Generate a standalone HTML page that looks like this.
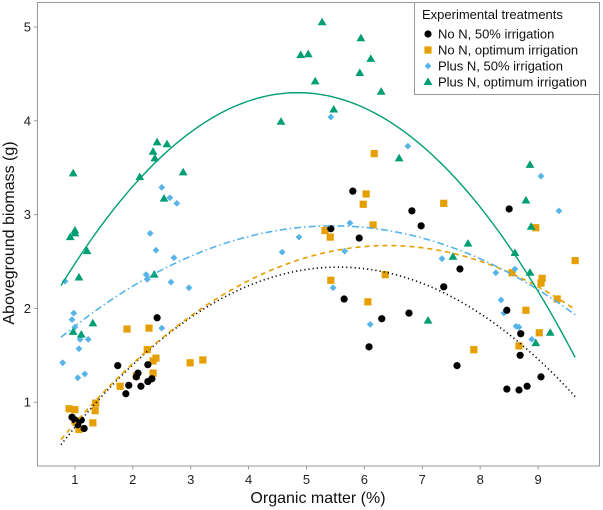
<!DOCTYPE html>
<html><head><meta charset="utf-8">
<style>
html,body{margin:0;padding:0;background:#fff;}
svg{display:block;font-family:"Liberation Sans",Arial,sans-serif;}
</style></head>
<body>
<svg id="chart" width="603" height="510" viewBox="0 0 603 510">
</svg>
<script>
const xTicks=[1,2,3,4,5,6,7,8,9];
const yTicks=[1,2,3,4,5];
const seriesNames=["No N, 50% irrigation","No N, optimum irrigation","Plus N, 50% irrigation","Plus N, optimum irrigation"];
const noN50X=[2.42,2.26,1.74,2.09,2.06,1.93,2.14,2.26,2.33,1.88,0.95,1.00,1.11,1.16,1.05,5.80,6.82,6.98,5.42,5.91,5.65,6.30,6.77,6.08,7.37,8.50,7.65,8.46,8.70,8.69,7.60,9.05,8.46,8.67,8.81];
const noN50Y=[1.90,1.40,1.39,1.31,1.27,1.18,1.17,1.22,1.25,1.09,0.84,0.81,0.81,0.72,0.76,3.25,3.04,2.88,2.85,2.75,2.10,1.89,1.95,1.59,2.23,3.06,2.42,1.98,1.73,1.50,1.39,1.27,1.14,1.13,1.17];
const noNOptX=[1.90,2.28,2.25,2.35,2.40,2.35,2.06,1.78,2.99,3.21,0.90,1.00,1.36,1.35,1.31,1.00,1.07,6.17,6.03,5.98,6.15,5.32,5.41,7.37,6.36,5.42,6.06,8.96,9.64,8.55,9.07,9.05,9.33,8.79,9.02,8.67,7.89];
const noNOptY=[1.78,1.79,1.56,1.44,1.47,1.31,1.28,1.17,1.42,1.45,0.93,0.92,0.99,0.91,0.78,0.80,0.71,3.65,3.22,3.11,2.89,2.83,2.76,3.12,2.36,2.30,2.07,2.86,2.51,2.38,2.32,2.27,2.10,1.98,1.74,1.60,1.56];
const plusN50X=[2.50,2.64,2.76,2.30,2.40,2.71,2.23,2.25,2.66,2.97,0.83,0.98,0.95,1.00,2.50,1.09,1.23,1.07,0.79,1.05,1.17,5.42,6.75,5.75,4.87,4.58,5.66,5.46,6.10,7.34,9.05,9.36,8.60,8.27,8.36,8.41,8.62,8.67,8.89];
const plusN50Y=[3.29,3.18,3.12,2.80,2.62,2.54,2.36,2.31,2.28,2.22,2.29,1.95,1.88,1.80,1.79,1.67,1.67,1.57,1.42,1.26,1.30,4.04,3.73,2.91,2.76,2.60,2.61,2.22,1.83,2.53,3.41,3.04,2.42,2.38,2.09,1.95,1.81,1.80,1.67];
const plusOptX=[2.42,2.59,2.35,2.38,0.97,2.87,2.12,2.54,1.00,0.92,1.00,1.21,1.07,2.37,1.31,0.97,1.11,5.27,5.94,4.90,5.03,6.11,5.92,5.15,6.29,5.47,4.56,6.60,7.10,8.86,8.79,8.88,7.79,7.53,8.60,8.86,8.96,9.21];
const plusOptY=[3.77,3.75,3.67,3.60,3.44,3.45,3.40,3.17,2.83,2.76,2.80,2.61,2.33,2.36,1.84,1.75,1.72,5.05,4.88,4.70,4.71,4.66,4.51,4.42,4.31,4.12,3.99,3.60,1.87,3.53,3.15,2.87,2.69,2.55,2.59,2.38,1.63,1.74];
// fitted quadratic: [peakX, peakY, curvature]
const fitNoN50=[5.55,2.44,0.0825];
const fitNoNOpt=[6.4,2.67,0.065];
const fitPlusN50=[5.45,2.88,0.054];
const fitPlusOpt=[4.85,4.30,0.123];
const fitRange=[0.76,9.64];

const NS="http://www.w3.org/2000/svg";
const svg=document.getElementById('chart');
const X=v=>17+57.9*v;
const Y=v=>496-93.8*v;
function mk(tag,attrs,parent){const e=document.createElementNS(NS,tag);for(const k in attrs)e.setAttribute(k,attrs[k]);(parent||svg).appendChild(e);return e;}

// frame / axes
const frame=mk('rect',{x:37.5,y:2.5,width:562,height:463.5,fill:'none',stroke:'#999','stroke-width':1});



const xg=mk('g',{});


xTicks.forEach(t=>{
  mk('line',{x1:X(t),x2:X(t),y1:466,y2:469.5,stroke:'#999'},xg);
  const tx=mk('text',{x:X(t),y:484,'text-anchor':'middle','font-size':13,fill:'#222'},xg);
  tx.textContent=t;
  
  
});
const yg=mk('g',{});


yTicks.forEach(t=>{
  mk('line',{x1:34,x2:37.5,y1:Y(t),y2:Y(t),stroke:'#999'},yg);
  const tx=mk('text',{x:31,y:Y(t)+4.5,'text-anchor':'end','font-size':13,fill:'#222'},yg);
  tx.textContent=t;
  
  
});
const xt=mk('text',{x:318,y:503,'text-anchor':'middle','font-size':16,fill:'#111'});
xt.textContent='Organic matter (%)';


const yt=mk('text',{x:0,y:0,'text-anchor':'middle','font-size':16,fill:'#111',transform:'translate(14,233) rotate(-90)'});
yt.textContent='Aboveground biomass (g)';



// markers
function circle(x,y,g){const e=mk('circle',{cx:x,cy:y,r:3.6,fill:'#000'},g);return e;}
function square(x,y,g){return mk('rect',{x:x-3.6,y:y-3.6,width:7.2,height:7.2,fill:'#E69F00'},g);}
function diamond(x,y,g){return mk('polygon',{points:`${x},${y-3.4} ${x+3.4},${y} ${x},${y+3.4} ${x-3.4},${y}`,fill:'#56B4E9'},g);}
function tri(x,y,g){return mk('polygon',{points:`${x},${y-4.6} ${x+4.4},${y+3} ${x-4.4},${y+3}`,fill:'#009E73'},g);}

function drawSeries(xs,ys,fn,name){
  const g=mk('g',{});
  
  
  xs.forEach((v,i)=>{
    const m=fn(X(v),Y(ys[i]),g);
    
    
  });
}
drawSeries(noNOptX,noNOptY,square,'no-n-optimum-points');
drawSeries(plusN50X,plusN50Y,diamond,'plus-n-50-points');
drawSeries(noN50X,noN50Y,circle,'no-n-50-points');
drawSeries(plusOptX,plusOptY,tri,'plus-n-optimum-points');

function drawFit(f,color,dash,width,name){
  let d='';
  for(let i=0;i<=100;i++){
    const x=fitRange[0]+(fitRange[1]-fitRange[0])*i/100;
    const y=f[1]-f[2]*(x-f[0])*(x-f[0]);
    d+=(i?'L':'M')+X(x).toFixed(2)+','+Y(y).toFixed(2);
  }
  const p=mk('path',{d:d,fill:'none',stroke:color,'stroke-width':width,'stroke-dasharray':dash});
  
  
}
drawFit(fitNoN50,'#000','1.2 3',1.6,'fit-no-n-50');
drawFit(fitNoNOpt,'#E69F00','5 4',1.6,'fit-no-n-optimum');
drawFit(fitPlusN50,'#56B4E9','7 3 1.5 3',1.6,'fit-plus-n-50');
drawFit(fitPlusOpt,'#009E73','none',1.4,'fit-plus-n-optimum');

// legend
const lg=mk('g',{});


mk('rect',{x:414.5,y:2.5,width:185,height:92,fill:'#fff',stroke:'#999'},lg);
const lt=mk('text',{x:422,y:19,'font-size':13,fill:'#111'},lg);
lt.textContent='Experimental treatments';


const lfns=[circle,square,diamond,tri];
seriesNames.forEach((n,i)=>{
  const y=34+16*i;
  const e=mk('g',{},lg);
  
  
  lfns[i](428,y,e);
  const t=mk('text',{x:438,y:y+4.5,'font-size':13,fill:'#111'},e);
  t.textContent=n;
});
</script>
</body></html>
